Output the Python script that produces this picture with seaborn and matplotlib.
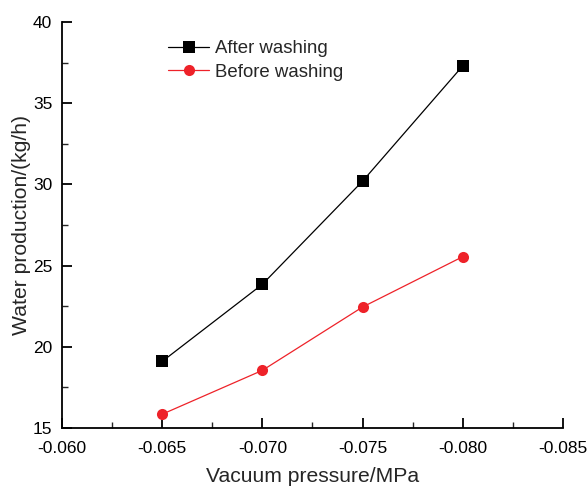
import matplotlib
matplotlib.use("Agg")
import matplotlib.pyplot as plt
import seaborn as sns
import pandas as pd
from matplotlib.ticker import MultipleLocator, FormatStrFormatter

pressure = [-0.065, -0.070, -0.075, -0.080]
after_washing = [19.1, 23.85, 30.2, 37.3]
before_washing = [15.85, 18.55, 22.45, 25.55]
series_names = ["After washing", "Before washing"]

df = pd.DataFrame({
    "pressure": pressure * 2,
    "value": after_washing + before_washing,
    "series": [series_names[0]] * len(pressure) + [series_names[1]] * len(pressure),
})

sns.set_style("ticks")
plt.rcParams["font.family"] = ["Liberation Sans", "DejaVu Sans"]

fig = plt.figure(figsize=(5.88, 4.87), dpi=100)
ax = fig.add_axes([0.1054, 0.1211, 0.852, 0.8337])

sns.lineplot(data=df, x="pressure", y="value", hue="series", style="series",
             palette={series_names[0]: "black", series_names[1]: "#ee2229"},
             markers={series_names[0]: "s", series_names[1]: "o"},
             dashes=False, linewidth=0.9, markersize=8, markeredgewidth=0,
             ax=ax)

ax.set_xlim(-0.060, -0.085)
ax.set_ylim(15, 40)
ax.xaxis.set_major_locator(MultipleLocator(0.005))
ax.xaxis.set_minor_locator(MultipleLocator(0.0025))
ax.yaxis.set_major_locator(MultipleLocator(5))
ax.yaxis.set_minor_locator(MultipleLocator(2.5))
ax.xaxis.set_major_formatter(FormatStrFormatter("%.3f"))
ax.tick_params(which="major", direction="in", length=7, width=1.3, labelsize=12.5,
               colors="black")
ax.tick_params(axis="x", which="major", pad=9)
ax.tick_params(axis="y", which="major", pad=7)
ax.tick_params(which="minor", direction="in", length=4, width=1.0)
for s in ["top", "right"]:
    ax.spines[s].set_visible(False)
for s in ["left", "bottom"]:
    ax.spines[s].set_linewidth(1.3)
    ax.spines[s].set_color("black")

ax.set_xlabel("Vacuum pressure/MPa", fontsize=15.2, labelpad=8)
ax.set_ylabel("Water production/(kg/h)", fontsize=15.2, labelpad=1.5)

leg = ax.legend(loc="upper left", bbox_to_anchor=(0.208, 0.96), frameon=False,
                fontsize=13.4, handlelength=2.2, handletextpad=0.35, labelspacing=0.35,
                borderpad=0.1, borderaxespad=0)

fig.savefig("out.png", dpi=100)
